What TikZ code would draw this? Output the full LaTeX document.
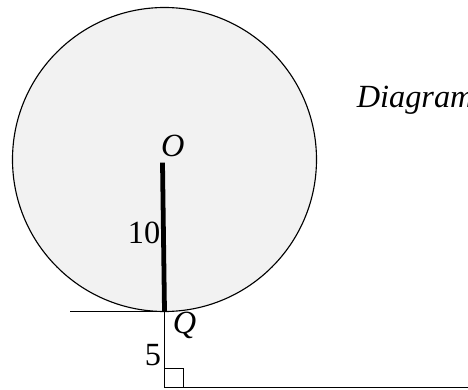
\documentclass[tikz,border=0pt]{standalone}
\usepackage{fontspec}
\setmainfont{Liberation Serif}
\usetikzlibrary{calc}

\begin{document}
\begin{tikzpicture}[
  font=\fontsize{23}{26}\selectfont,
  thin line/.style={black, line width=0.8pt},
  radius line/.style={black, line width=3.4pt},
  label/.style={inner sep=0pt, anchor=base west},
]

% Frame of the picture
\useasboundingbox (-4.1125, -1.9375) rectangle (7.5875, 7.7875);

% Points
\coordinate (Q) at (0, 0);
\coordinate (O) at (0, 3.8);
\coordinate (rtop) at (-0.05, 3.72);
\coordinate (tanL) at (-2.36, 0);
\coordinate (foot) at (0, -1.91);
\coordinate (floorR) at (7.6, -1.91);

% Circle
\draw[thin line, fill=black!5] (O) circle (3.8);

% Tangent, post and floor
\draw[thin line] (tanL) -- (Q);
\draw[thin line] (Q) -- (foot) -- (floorR);
\draw[thin line] ($(foot)+(0,0.475)$) -| ($(foot)+(0.475,0)$);

% Radius
\draw[radius line] (Q) -- (rtop);

% Labels
\node[label] (lO) at (-0.09, 3.8875) {\textit{O}};
\node[label] (lQ) at (0.2, -0.5375) {\textit{Q}};
\node[label] (l10) at (-0.92, 1.7125) {10};
\node[label] (l5) at (-0.5, -1.3375) {5};
\node[label] (cap) at (4.8, 5.1125) {\textit{Diagram}};

\end{tikzpicture}
\end{document}
